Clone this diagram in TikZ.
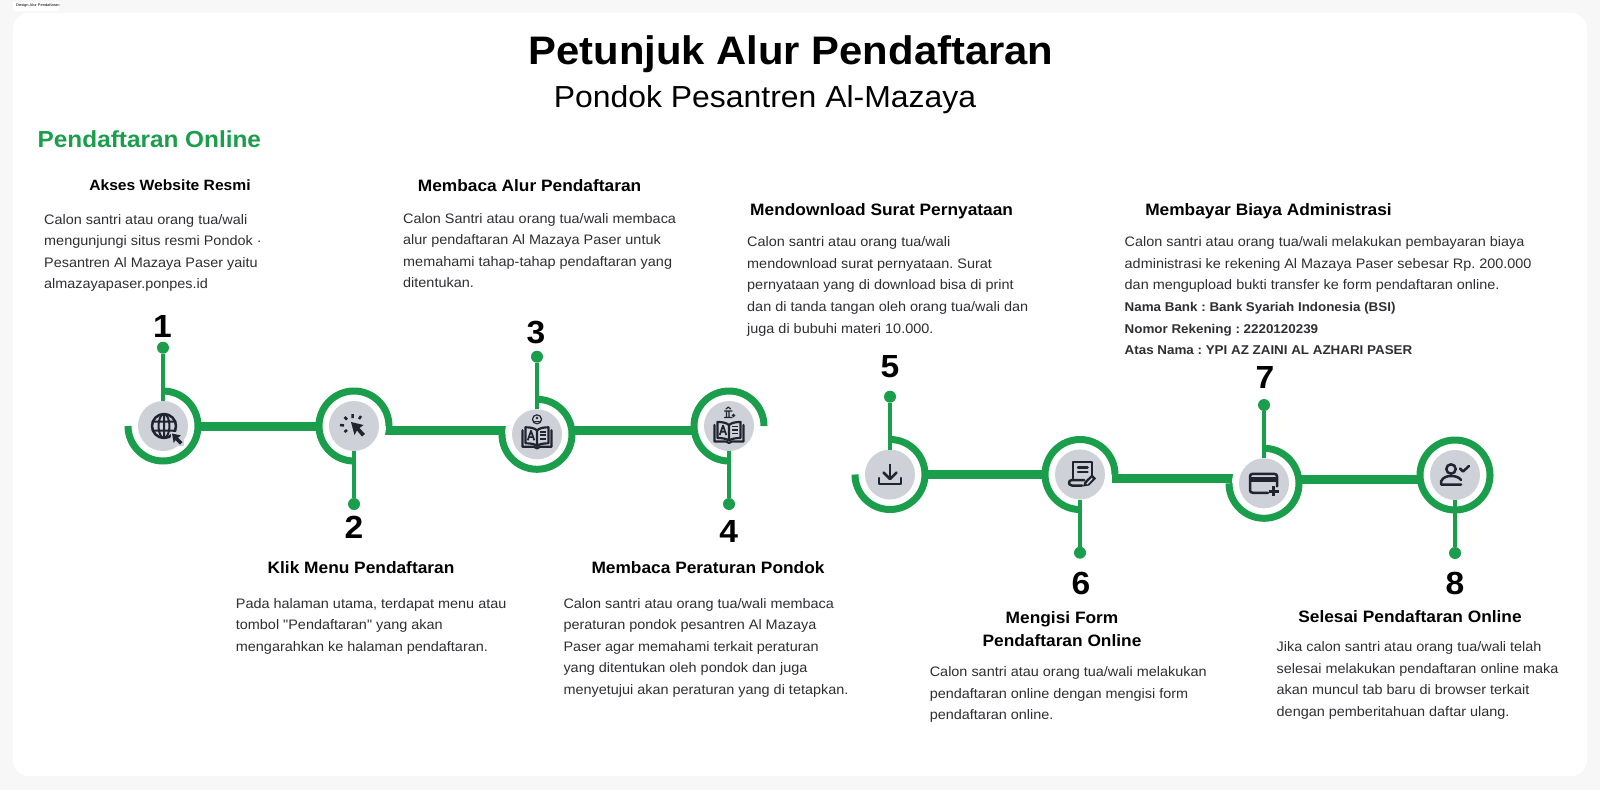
\documentclass[tikz,border=0pt]{standalone}
\usepackage{fontspec}
\setmainfont[FakeStretch=1.05]{Liberation Sans}
\newfontfamily\plainq[FakeStretch=1.05]{Liberation Sans}
\usetikzlibrary{backgrounds}
\definecolor{grn}{HTML}{1A9E4B}
\definecolor{gry}{HTML}{CFD1D8}
\definecolor{ink}{HTML}{1F2430}
\definecolor{bodyc}{HTML}{2F2F33}
\definecolor{pagebg}{HTML}{F7F7F7}
\newcommand{\bt}[1]{{\fontsize{12.75}{21.6}\selectfont\bfseries #1}}
\tikzset{
  x=1pt,y=1pt,
  whitedisc/.style={circle,fill=white,minimum size=64pt,inner sep=0,outer sep=0},
  graydisc/.style={circle,fill=gry,minimum size=50pt,inner sep=0,outer sep=0},
  ring/.style={draw=grn,line width=7pt,line cap=butt},
  barline/.style={draw=grn,line width=9pt},
  leader/.style={draw=grn,line width=4pt},
  dotnode/.style={circle,fill=grn,minimum size=12pt,inner sep=0,outer sep=0},
  numlabel/.style={font=\fontsize{32}{32}\selectfont\bfseries,inner sep=0,text=black},
  headlabel/.style={font=\fontsize{16.5}{22.5}\selectfont\bfseries,inner sep=0,text=black,align=center},
  bodylabel/.style={font=\fontsize{13.75}{21.6}\selectfont\frenchspacing,inner sep=0,text=bodyc,align=left,anchor=north west},
  ic/.style={draw=ink,line width=2.5pt,line cap=round,line join=round},
}
% open book icon, drawn around the origin of a scope
\newcommand{\bookicon}{%
  \draw[ic,line width=2.2pt,line cap=butt] (0,3) .. controls (-3,0.5) and (-7,0) .. (-11.5,0) -- (-11.5,16) .. controls (-7,16) and (-3,16.5) .. (0,18.5)
     .. controls (3,16.5) and (7,16) .. (11.5,16) -- (11.5,0) .. controls (7,0) and (3,0.5) .. (0,3) -- (0,18.5);
  \draw[ic,line width=1.7pt,line cap=butt] (-9.3,13) -- (-6,3.5) -- (-2.7,13) (-8,9.8) -- (-4,9.8);
  \draw[ic,line width=1.8pt,line cap=butt] (3,4.5) -- (9,4.5) (3,8) -- (9,8) (3,11.5) -- (9,11.5);
  \draw[ic,line width=2.2pt] (-14.5,3) -- (-14.5,19.5) -- (-3,19.5) -- (0,21) -- (3,19.5) -- (14.5,19.5) -- (14.5,3);
}
\begin{document}
\begin{tikzpicture}
\useasboundingbox (0,0) rectangle (1600,-790);
\begin{pgfonlayer}{background}
  \fill[pagebg] (0,0) rectangle (1600,-790);
  \fill[white,rounded corners=16pt] (13,-13) rectangle (1587,-776);
  \fill[white] (13,-2) rectangle (59,-11);
\end{pgfonlayer}
% tab and titles
\node[inner sep=0,font=\fontsize{3.8}{5}\selectfont,anchor=west] (tab) at (16,-6) {Design Alur Pendaftaran};
\node[inner sep=0,font=\fontsize{39.8}{46}\selectfont\bfseries] (title) at (791,-54.5) {Petunjuk Alur Pendaftaran};
\node[inner sep=0,font=\fontsize{30.4}{36}\selectfont] (subtitle) at (765,-99.5) {Pondok Pesantren Al-Mazaya};
\node[inner sep=0,font=\fontsize{23.2}{28}\selectfont\bfseries,text=grn,anchor=west] (section) at (37.5,-139.5) {Pendaftaran Online};
% discs
\foreach \i/\px/\py in {1/163/426,2/354/426,3/537/434.3,4/729/426,5/890/474.5,6/1080/474.5,7/1264/483.3,8/1455/475}{
  \node[whitedisc] (w\i) at (\px,-\py) {};
}
% rings
\draw[ring] (w1.center) ++(0,35) arc[start angle=90,end angle=-180,radius=35];
\draw[ring] (w2.center) ++(35,0) arc[start angle=0,end angle=270,radius=35];
\draw[ring] (w3.center) ++(0,35) arc[start angle=90,end angle=-180,radius=35];
\draw[ring] (w4.center) ++(35,0) arc[start angle=0,end angle=270,radius=35];
\draw[ring] (w5.center) ++(0,35) arc[start angle=90,end angle=-180,radius=35];
\draw[ring] (w6.center) ++(35,0) arc[start angle=0,end angle=270,radius=35];
\draw[ring] (w7.center) ++(0,35) arc[start angle=90,end angle=-180,radius=35];
\draw[ring] (w8.center) circle[radius=35];
\foreach \i in {1,...,8}{ \node[graydisc] (n\i) at (w\i) {}; }
% free ends of the stepped bars
\coordinate (a2) at (385,-430);
\coordinate (b3) at (507,-430);
\coordinate (a3) at (570,-430);
\coordinate (b4) at (694,-430);
\coordinate (a6) at (1112,-478.7);
\coordinate (b7) at (1233,-478.7);
\coordinate (a7) at (1298,-479);
\coordinate (b8) at (1422,-479);
\begin{pgfonlayer}{background}
  \draw[barline] (w1) -- (w2);
  \draw[barline] (a2) -- (b3);
  \draw[barline] (a3) -- (b4);
  \draw[barline] (w5) -- (w6);
  \draw[barline] (a6) -- (b7);
  \draw[barline] (a7) -- (b8);
\end{pgfonlayer}
% leaders
\foreach \i/\px/\py in {1/163/347.7,2/354/504,3/537/356.7,4/729/504,5/890/396.7,6/1080/552.7,7/1264/405,8/1455/553}{
  \node[dotnode] (d\i) at (\px,-\py) {};
  \draw[leader] (d\i) -- (n\i);
}
% numbers
\node[numlabel] (num1) at (162.5,-326) {1};
\node[numlabel] (num2) at (354,-527) {2};
\node[numlabel] (num3) at (536,-333) {3};
\node[numlabel] (num4) at (728.6,-531) {4};
\node[numlabel] (num5) at (890,-367) {5};
\node[numlabel] (num6) at (1081,-583) {6};
\node[numlabel] (num7) at (1265,-377.5) {7};
\node[numlabel] (num8) at (1455,-583) {8};
% headings
\node[headlabel,font=\fontsize{14.9}{20}\selectfont\bfseries] (h1) at (170,-185) {Akses Website Resmi};
\node[headlabel] (h3) at (529.6,-186) {Membaca Alur Pendaftaran};
\node[headlabel] (h2) at (361,-568) {Klik Menu Pendaftaran};
\node[headlabel] (h4) at (708,-568) {Membaca Peraturan Pondok};
\node[headlabel] (h5) at (881.6,-211) {Mendownload Surat Pernyataan};
\node[headlabel] (h7) at (1268.5,-211) {Membayar Biaya Administrasi};
\node[headlabel] (h6) at (1062,-629) {Mengisi Form\\Pendaftaran Online};
\node[headlabel] (h8) at (1410,-617) {Selesai Pendaftaran Online};
% body text
\node[bodylabel] (b1) at (44,-214) {Calon santri atau orang tua/wali\\mengunjungi situs resmi Pondok ·\\Pesantren Al Mazaya Paser yaitu\\almazayapaser.ponpes.id};
\node[bodylabel] (b3t) at (403,-213) {Calon Santri atau orang tua/wali membaca\\alur pendaftaran Al Mazaya Paser untuk\\memahami tahap-tahap pendaftaran yang\\ditentukan.};
\node[bodylabel] (b5) at (747,-236.5) {Calon santri atau orang tua/wali\\mendownload surat pernyataan. Surat\\pernyataan yang di download bisa di print\\dan di tanda tangan oleh orang tua/wali dan\\juga di bubuhi materi 10.000.};
\node[bodylabel] (b7t) at (1124.5,-236.5) {Calon santri atau orang tua/wali melakukan pembayaran biaya\\administrasi ke rekening Al Mazaya Paser sebesar Rp. 200.000\\dan mengupload bukti transfer ke form pendaftaran online.\\\bt{Nama Bank : Bank Syariah Indonesia (BSI)}\\\bt{Nomor Rekening : 2220120239}\\\bt{Atas Nama : YPI AZ ZAINI AL AZHARI PASER}};
\node[bodylabel] (b2) at (235.7,-598) {Pada halaman utama, terdapat menu atau\\tombol {\plainq"}Pendaftaran{\plainq"} yang akan\\mengarahkan ke halaman pendaftaran.};
\node[bodylabel] (b4t) at (563.3,-598) {Calon santri atau orang tua/wali membaca\\peraturan pondok pesantren Al Mazaya\\Paser agar memahami terkait peraturan\\yang ditentukan oleh pondok dan juga\\menyetujui akan peraturan yang di tetapkan.};
\node[bodylabel] (b6) at (929.6,-666.5) {Calon santri atau orang tua/wali melakukan\\pendaftaran online dengan mengisi form\\pendaftaran online.};
\node[bodylabel] (b8t) at (1276.5,-641.5) {Jika calon santri atau orang tua/wali telah\\selesai melakukan pendaftaran online maka\\akan muncul tab baru di browser terkait\\dengan pemberitahuan daftar ulang.};
% icon 1: globe with cursor
\begin{scope}[shift={(n1)},yscale=-1]
  \draw[ic] (1,0) circle[radius=12];
  \draw[ic,line width=2pt] (1,0) ellipse[x radius=5.5,y radius=12] (-10.5,-4.5) -- (12.5,-4.5) (-10.5,4.5) -- (12.5,4.5) (1,-12) -- (1,12);
  \fill[gry] (8,6) rectangle (21,20);
  \fill[ink] (9,7.5) -- (18,9.5) -- (15,11.5) -- (19.5,16) -- (17,18.5) -- (12.5,14) -- (10.7,17) -- cycle;
\end{scope}
% icon 2: click
\begin{scope}[shift={(n2)},yscale=-1]
  \fill[ink] (-3,-4) -- (9.5,-1) -- (5.5,2) -- (11,8) -- (8,10.5) -- (3,4.5) -- (0.5,9) -- cycle;
  \draw[ic,line cap=butt] (-1.5,-12) -- (-1.5,-8) (-9.5,-9) -- (-7,-6.5) (7,-10) -- (5,-7) (-14,-1) -- (-10,-0.5) (-9.5,6) -- (-7,4);
\end{scope}
% icon 3: book with small badge
\begin{scope}[shift={(n3)},yscale=-1]
  \begin{scope}[yshift=-7pt]\bookicon\end{scope}
  \draw[ic,line width=1.2pt] (0,-15) circle[radius=4.5];
  \fill[ink] (0,-16.3) circle[radius=1.4];
  \draw[ic,line width=1.1pt] (-2.3,-13.2) -- (2.3,-13.2);
\end{scope}
% icon 4: book with small building
\begin{scope}[shift={(n4)},yscale=-1]
  \begin{scope}[yshift=-4pt]\bookicon\end{scope}
  \draw[ic,line width=1.2pt] (-4.5,-15) -- (3,-15) (-4.5,-8.5) -- (3,-8.5) (-2.5,-14) -- (-2.5,-9.5) (0,-14) -- (0,-9.5) (-3,-17) -- (-0.7,-19) -- (1.5,-17);
  \fill[ink] (4.5,-10.5) circle[radius=1.8];
\end{scope}
% icon 5: download
\begin{scope}[shift={(n5)},yscale=-1]
  \draw[ic,line cap=butt] (0,-11) -- (0,4);
  \draw[ic] (-6.5,-2) -- (0,4.5) -- (6.5,-2);
  \draw[ic] (-10.8,3.5) -- (-10.8,9.5) -- (10.8,9.5) -- (10.8,3.5);
\end{scope}
% icon 6: form with pen
\begin{scope}[shift={(n6)},yscale=-1]
  \draw[ic] (-7,5) -- (-7,-12.5) -- (12,-12.5) -- (12,0);
  \draw[ic] (-2,-7) -- (7.5,-7) (-2,-2.5) -- (7.5,-2.5);
  \draw[ic] (2,11) -- (-8,11) .. controls (-12,11) and (-12,5.5) .. (-8,5.5) -- (4,5.5);
  \fill[ink] (3,12) -- (4.5,7) -- (12,0) -- (16,4) -- (9,11) -- cycle;
  \fill[gry] (6.3,9) -- (12,3) -- (12.5,4.5) -- (7.5,10) -- cycle;
\end{scope}
% icon 7: card with plus
\begin{scope}[shift={(n7)},yscale=-1]
  \draw[ic] (4,9.5) -- (-11,9.5) .. controls (-13,9.5) and (-14,8.5) .. (-14,7) -- (-14,-7) .. controls (-14,-8.5) and (-13,-9.5) .. (-11,-9.5) -- (10,-9.5) .. controls (12,-9.5) and (13,-8.5) .. (13,-7) -- (13,3);
  \fill[ink] (-14,-6) rectangle (13,-1.5);
  \draw[ic,line cap=butt] (9.5,2.5) -- (9.5,13) (4.5,8) -- (14.5,8);
\end{scope}
% icon 8: person with check
\begin{scope}[shift={(n8)},yscale=-1]
  \draw[ic] (-4,-6) circle[radius=4.7];
  \draw[ic] (6,9.5) -- (-14,9.5) -- (-14,6.5) .. controls (-12,2) and (-8,1) .. (-4,1) .. controls (0,1) and (4,2) .. (6,5);
  \draw[ic] (5,-6.5) -- (8,-3.5) -- (14,-9);
\end{scope}
\end{tikzpicture}
\end{document}
